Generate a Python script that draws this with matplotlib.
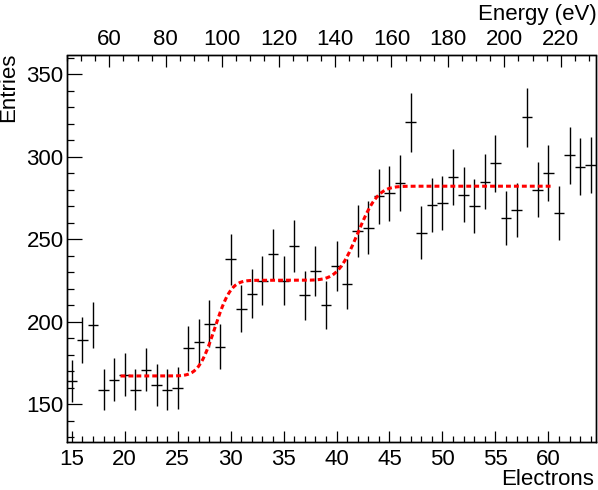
import math

import matplotlib
matplotlib.use("Agg")
import matplotlib.pyplot as plt
import numpy as np
from matplotlib.ticker import MultipleLocator

plt.rcParams['font.family'] = ['Liberation Sans', 'DejaVu Sans']

# histogram content, one bin per electron count
electrons = np.arange(15, 65)
entries = [164, 189, 198, 159, 165, 168, 159, 171, 162, 159,
           160, 184, 188, 199, 185, 238, 208, 217, 225, 241,
           225, 246, 216, 231, 210, 234, 223, 255, 257, 276,
           278, 284, 321, 254, 271, 272, 288, 277, 270, 285,
           296, 263, 268, 324, 280, 290, 266, 301, 294, 295]

# fitted double step (erf) curve
fit_range = (19.6, 60.4)
fit_base = 167.2
fit_steps = [(58.0, 28.5, 1.2), (57.0, 42.0, 1.5)]  # height, centre, sigma

# axis ranges
x_range = (14.5, 64.5)
y_range = (127.2, 361.4)
energy_range = (44.83, 232.5)


def step_fit(x):
    y = np.full_like(x, fit_base)
    for h, c, s in fit_steps:
        y += h * 0.5 * (1 + np.array([math.erf((v - c) / (s * math.sqrt(2))) for v in x]))
    return y


fig = plt.figure(figsize=(5.98, 4.90), dpi=100)
ax = fig.add_axes([66.5 / 598, 1 - 442 / 490, (596 - 66.5) / 598, (442 - 55.5) / 490])

y = np.array(entries, dtype=float)
ax.errorbar(electrons, y, yerr=np.sqrt(y), xerr=0.5, fmt='none',
            ecolor='black', elinewidth=1.0, capsize=0)

xf = np.linspace(fit_range[0], fit_range[1], 400)
ax.plot(xf, step_fit(xf), color='red', lw=2.2, linestyle=(0, (1.6, 1.0)))

ax.set_xlim(*x_range)
ax.set_ylim(*y_range)

# bottom axis
ax.xaxis.set_major_locator(MultipleLocator(5))
ax.xaxis.set_minor_locator(MultipleLocator(1))
ax.yaxis.set_major_locator(MultipleLocator(50))
ax.yaxis.set_minor_locator(MultipleLocator(10))
ax.tick_params(axis='x', which='major', direction='in', length=8, width=0.9,
               top=False, labelsize=16, pad=5)
ax.tick_params(axis='x', which='minor', direction='in', length=4.3, width=0.9, top=False)
ax.tick_params(axis='y', which='major', direction='in', length=10.8, width=0.9,
               right=False, labelsize=16, pad=2)
ax.tick_params(axis='y', which='minor', direction='in', length=5, width=0.9, right=False)

# top energy axis
ax2 = ax.twiny()
ax2.set_xlim(*energy_range)
ax2.xaxis.set_major_locator(MultipleLocator(20))
ax2.xaxis.set_minor_locator(MultipleLocator(5))
ax2.tick_params(axis='x', which='major', direction='in', length=8.6, width=0.9,
                labelsize=16, pad=4)
ax2.tick_params(axis='x', which='minor', direction='in', length=4.3, width=0.9)

for a in (ax, ax2):
    for sp in a.spines.values():
        sp.set_linewidth(1.0)

# titles
fig.text(594 / 598, 1 - 485 / 490, 'Electrons', ha='right', va='baseline', fontsize=16)
fig.text(597 / 598, 1 - 4 / 490, 'Energy (eV)', ha='right', va='top', fontsize=16)
fig.text(9 / 598, 1 - 53 / 490, 'Entries', ha='center', va='top', rotation=90, fontsize=16)

fig.savefig('out.png', dpi=100)
